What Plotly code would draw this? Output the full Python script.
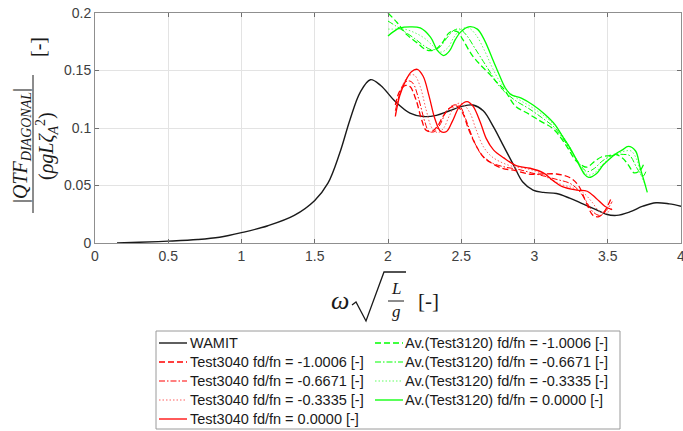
import plotly.graph_objects as go

# ---------------- data ----------------
omega_wamit = [0.15, 0.30, 0.50, 0.70, 0.85, 1.00, 1.18, 1.36, 1.50, 1.59, 1.67, 1.74, 1.81, 1.88,
               1.95, 2.05, 2.15, 2.24, 2.33, 2.42, 2.51, 2.58, 2.65, 2.72, 2.79, 2.86, 2.92, 2.99,
               3.06, 3.15, 3.24, 3.33, 3.42, 3.49, 3.56, 3.65, 3.74, 3.83, 3.92, 4.00]
qtf_wamit = [0.000, 0.0006, 0.0016, 0.0030, 0.0050, 0.009, 0.015, 0.024, 0.037, 0.052, 0.078, 0.107,
             0.131, 0.142, 0.137, 0.123, 0.113, 0.110, 0.111, 0.115, 0.119, 0.120, 0.115, 0.101,
             0.084, 0.067, 0.053, 0.046, 0.044, 0.043, 0.039, 0.034, 0.029, 0.025, 0.024, 0.027,
             0.032, 0.035, 0.034, 0.032]

# Test3040, fd/fn = -1.0006
omega_t3040_a = [2.05, 2.08, 2.12, 2.15, 2.19, 2.23, 2.26, 2.30, 2.34, 2.38, 2.43, 2.47, 2.51, 2.55,
                 2.60, 2.65, 2.70, 2.78, 2.87, 2.96, 3.05, 3.15, 3.24, 3.30, 3.35, 3.40, 3.44, 3.48, 3.52]
qtf_t3040_a = [0.120, 0.132, 0.137, 0.136, 0.125, 0.107, 0.098, 0.097, 0.102, 0.111, 0.118, 0.119,
               0.113, 0.099, 0.085, 0.075, 0.070, 0.065, 0.063, 0.060, 0.060, 0.060, 0.057, 0.050,
               0.036, 0.024, 0.023, 0.028, 0.038]
# Test3040, fd/fn = -0.6671
omega_t3040_b = [2.05, 2.08, 2.11, 2.14, 2.17, 2.21, 2.25, 2.28, 2.32, 2.36, 2.40, 2.45, 2.49, 2.53,
                 2.57, 2.62, 2.67, 2.72, 2.80, 2.89, 2.98, 3.07, 3.16, 3.24, 3.30, 3.35, 3.40, 3.45,
                 3.50, 3.53]
qtf_t3040_b = [0.115, 0.130, 0.139, 0.141, 0.139, 0.125, 0.106, 0.097, 0.097, 0.104, 0.115, 0.120,
               0.119, 0.108, 0.094, 0.080, 0.073, 0.069, 0.066, 0.064, 0.061, 0.058, 0.055, 0.052,
               0.046, 0.037, 0.027, 0.024, 0.030, 0.036]
# Test3040, fd/fn = -0.3335
omega_t3040_c = [2.05, 2.08, 2.11, 2.15, 2.18, 2.22, 2.26, 2.30, 2.34, 2.38, 2.42, 2.47, 2.51, 2.56,
                 2.60, 2.65, 2.70, 2.76, 2.84, 2.93, 3.02, 3.10, 3.18, 3.26, 3.33, 3.39, 3.44, 3.49, 3.53]
qtf_t3040_c = [0.112, 0.129, 0.140, 0.146, 0.146, 0.136, 0.116, 0.100, 0.096, 0.100, 0.111, 0.121,
               0.121, 0.113, 0.099, 0.084, 0.076, 0.071, 0.067, 0.065, 0.062, 0.056, 0.051, 0.048,
               0.044, 0.036, 0.028, 0.026, 0.031]
# Test3040, fd/fn = 0.0000
omega_t3040_d = [2.05, 2.08, 2.12, 2.16, 2.20, 2.24, 2.28, 2.32, 2.36, 2.40, 2.44, 2.49, 2.54, 2.58,
                 2.63, 2.67, 2.72, 2.79, 2.88, 2.97, 3.06, 3.13, 3.19, 3.29, 3.36, 3.42, 3.48, 3.53]
qtf_t3040_d = [0.110, 0.128, 0.141, 0.149, 0.151, 0.145, 0.128, 0.108, 0.097, 0.097, 0.106, 0.119,
               0.123, 0.119, 0.105, 0.091, 0.081, 0.074, 0.067, 0.065, 0.061, 0.054, 0.049, 0.046,
               0.045, 0.039, 0.032, 0.029]

# Av.(Test3120), fd/fn = -1.0006
omega_t3120_a = [2.00, 2.06, 2.13, 2.20, 2.26, 2.32, 2.37, 2.42, 2.47, 2.51, 2.57, 2.63, 2.70, 2.74,
                 2.79, 2.87, 2.95, 3.04, 3.13, 3.22, 3.28, 3.33, 3.36, 3.41, 3.46, 3.51, 3.55, 3.60,
                 3.64, 3.68, 3.72, 3.75]
qtf_t3120_a = [0.200, 0.192, 0.181, 0.174, 0.168, 0.168, 0.174, 0.183, 0.184, 0.177, 0.164, 0.155,
               0.146, 0.140, 0.134, 0.119, 0.113, 0.106, 0.099, 0.084, 0.072, 0.067, 0.066, 0.071,
               0.075, 0.076, 0.077, 0.074, 0.068, 0.061, 0.063, 0.070]
# Av.(Test3120), fd/fn = -0.6671
omega_t3120_b = [2.00, 2.05, 2.11, 2.18, 2.24, 2.30, 2.35, 2.40, 2.45, 2.49, 2.54, 2.59, 2.65, 2.70,
                 2.75, 2.80, 2.88, 2.96, 3.05, 3.14, 3.22, 3.28, 3.33, 3.36, 3.41, 3.46, 3.51, 3.56,
                 3.61, 3.65, 3.70, 3.74, 3.76]
qtf_t3120_b = [0.193, 0.189, 0.184, 0.178, 0.172, 0.168, 0.170, 0.178, 0.185, 0.186, 0.180, 0.170,
               0.158, 0.148, 0.138, 0.131, 0.123, 0.117, 0.109, 0.100, 0.086, 0.074, 0.065, 0.062,
               0.065, 0.071, 0.075, 0.077, 0.077, 0.076, 0.065, 0.058, 0.062]
# Av.(Test3120), fd/fn = -0.3335
omega_t3120_c = [2.00, 2.05, 2.11, 2.18, 2.25, 2.31, 2.36, 2.41, 2.45, 2.50, 2.55, 2.60, 2.66, 2.71,
                 2.76, 2.81, 2.89, 2.97, 3.06, 3.14, 3.22, 3.28, 3.33, 3.37, 3.42, 3.47, 3.52, 3.57,
                 3.62, 3.66, 3.70, 3.73, 3.76]
qtf_t3120_c = [0.186, 0.186, 0.186, 0.183, 0.178, 0.171, 0.166, 0.170, 0.179, 0.186, 0.187, 0.181,
               0.167, 0.153, 0.141, 0.133, 0.125, 0.119, 0.111, 0.102, 0.088, 0.074, 0.063, 0.059,
               0.062, 0.069, 0.074, 0.078, 0.080, 0.080, 0.072, 0.058, 0.050]
# Av.(Test3120), fd/fn = 0.0000
omega_t3120_d = [2.00, 2.04, 2.08, 2.15, 2.22, 2.29, 2.34, 2.38, 2.42, 2.46, 2.50, 2.55, 2.61, 2.66,
                 2.72, 2.76, 2.80, 2.84, 2.91, 2.99, 3.07, 3.14, 3.19, 3.25, 3.30, 3.34, 3.37, 3.42,
                 3.47, 3.52, 3.56, 3.60, 3.64, 3.69, 3.72, 3.75, 3.77]
qtf_t3120_d = [0.180, 0.184, 0.187, 0.188, 0.187, 0.179, 0.167, 0.163, 0.167, 0.177, 0.184, 0.188,
               0.186, 0.176, 0.158, 0.146, 0.135, 0.129, 0.126, 0.120, 0.112, 0.103, 0.093, 0.081,
               0.069, 0.060, 0.057, 0.060, 0.068, 0.074, 0.078, 0.081, 0.084, 0.080, 0.066, 0.053, 0.044]

series_names = ["WAMIT",
                "Test3040 fd/fn = -1.0006 [-]", "Test3040 fd/fn = -0.6671 [-]",
                "Test3040 fd/fn = -0.3335 [-]", "Test3040 fd/fn = 0.0000 [-]",
                "Av.(Test3120) fd/fn = -1.0006 [-]", "Av.(Test3120) fd/fn = -0.6671 [-]",
                "Av.(Test3120) fd/fn = -0.3335 [-]", "Av.(Test3120) fd/fn = 0.0000 [-]"]

x_ticks = [0, 0.5, 1, 1.5, 2, 2.5, 3, 3.5, 4]
x_tick_labels = ["0", "0.5", "1", "1.5", "2", "2.5", "3", "3.5", "4"]
y_ticks = [0, 0.05, 0.1, 0.15, 0.2]
y_tick_labels = ["0", "0.05", "0.1", "0.15", "0.2"]

# ---------------- styles ----------------
BLACK = "#1a1a1a"
RED = "#ff0000"
GREEN = "#00ff00"
DASH = "6px,3px"
DASHDOT = "6px,2px,1.5px,2px"
DOT = "1.5px,2px"

series = [
    (omega_wamit, qtf_wamit, BLACK, "solid", 1.4),
    (omega_t3040_a, qtf_t3040_a, RED, DASH, 1.3),
    (omega_t3040_b, qtf_t3040_b, RED, DASHDOT, 1.0),
    (omega_t3040_c, qtf_t3040_c, "#ff6060", DOT, 1.0),
    (omega_t3040_d, qtf_t3040_d, RED, "solid", 1.3),
    (omega_t3120_a, qtf_t3120_a, GREEN, DASH, 1.3),
    (omega_t3120_b, qtf_t3120_b, GREEN, DASHDOT, 1.0),
    (omega_t3120_c, qtf_t3120_c, "#60ff60", DOT, 1.0),
    (omega_t3120_d, qtf_t3120_d, GREEN, "solid", 1.3),
]

fig = go.Figure()
for (xs, ys, col, dash, w), name in zip(series, series_names):
    fig.add_trace(go.Scatter(x=xs, y=ys, mode="lines", name=name, showlegend=False,
                             line=dict(color=col, dash=dash, width=w, shape="spline", smoothing=1.0)))

W, H = 683, 431
ML, MR, MT, MB = 95, 2, 13, 188
PW, PH = W - ML - MR, H - MT - MB


def px(xp):
    return (xp - ML) / PW


def py(yp):
    return (H - MB - yp) / PH


shapes = []
annotations = []

# ---- manual legend (MATLAB style, two columns, column-major) ----
shapes.append(dict(type="rect", xref="paper", yref="paper", x0=px(156), x1=px(620),
                   y0=py(429), y1=py(331), line=dict(color="#9a9a9a", width=1),
                   fillcolor="white", layer="above"))
rows = [343, 362, 381, 400, 419]
col_pos = [(159, 187, 190)] * 5 + [(375, 403, 405)] * 4
row_pos = rows + rows[:4]
for i, ((xs, ys, col, dash, w), name) in enumerate(zip(series, series_names)):
    x0, x1, xt = col_pos[i]
    yr = row_pos[i]
    shapes.append(dict(type="line", xref="paper", yref="paper", x0=px(x0), x1=px(x1),
                       y0=py(yr), y1=py(yr), line=dict(color=col, dash=dash, width=max(w, 1.2)),
                       layer="above"))
    annotations.append(dict(xref="paper", yref="paper", x=px(xt), y=py(yr), text=name,
                            showarrow=False, xanchor="left", yanchor="middle",
                            borderpad=0, borderwidth=0,
                            font=dict(family="Liberation Sans, Arial", size=14.5, color="#1a1a1a")))

# ---- x-axis label: omega * sqrt(L/g) [-] ----
serif = "Liberation Serif, Times New Roman, serif"
annotations.append(dict(xref="paper", yref="paper", x=px(340), y=py(300), text="<i>ω</i>",
                        showarrow=False, xanchor="center", yanchor="middle",
                        font=dict(family=serif, size=26, color="#1a1a1a")))
shapes.append(dict(type="path", xref="paper", yref="paper",
                   path=f"M {px(352)},{py(305)} L {px(356)},{py(302)} L {px(366)},{py(321)} "
                        f"L {px(384)},{py(272)} L {px(406)},{py(272)}",
                   line=dict(color="#1a1a1a", width=1.3)))
annotations.append(dict(xref="paper", yref="paper", x=px(396), y=py(288), text="<i>L</i>",
                        showarrow=False, xanchor="center", yanchor="middle",
                        font=dict(family=serif, size=17, color="#1a1a1a")))
shapes.append(dict(type="line", xref="paper", yref="paper", x0=px(388), x1=px(404),
                   y0=py(301), y1=py(301), line=dict(color="#1a1a1a", width=1)))
annotations.append(dict(xref="paper", yref="paper", x=px(396), y=py(311), text="<i>g</i>",
                        showarrow=False, xanchor="center", yanchor="middle",
                        font=dict(family=serif, size=17, color="#1a1a1a")))
annotations.append(dict(xref="paper", yref="paper", x=px(428), y=py(301), text="[-]",
                        showarrow=False, xanchor="center", yanchor="middle",
                        font=dict(family=serif, size=21, color="#1a1a1a")))

# ---- y-axis label: |QTF_DIAGONAL| / (rho g L zeta_A^2) [-] ----
annotations.append(dict(xref="paper", yref="paper", x=px(21), y=py(146),
                        text="|<i>QTF</i><sub><i>DIAGONAL</i></sub>|",
                        showarrow=False, xanchor="center", yanchor="middle", textangle=-90,
                        font=dict(family=serif, size=20, color="#1a1a1a")))
shapes.append(dict(type="line", xref="paper", yref="paper", x0=px(33), x1=px(33),
                   y0=py(75), y1=py(213), line=dict(color="#1a1a1a", width=1)))
annotations.append(dict(xref="paper", yref="paper", x=px(47), y=py(146),
                        text="(<i>ρgLζ</i><sub><i>A</i></sub><sup>2</sup>)",
                        showarrow=False, xanchor="center", yanchor="middle", textangle=-90,
                        font=dict(family=serif, size=20, color="#1a1a1a")))
annotations.append(dict(xref="paper", yref="paper", x=px(38), y=py(47), text="[-]",
                        showarrow=False, xanchor="center", yanchor="middle", textangle=-90,
                        font=dict(family=serif, size=20, color="#1a1a1a")))

axis_common = dict(showgrid=True, gridcolor="#e3e3e3", gridwidth=1, zeroline=False,
                   showline=True, linecolor="#8f8f8f", linewidth=1, mirror="ticks",
                   ticks="inside", ticklen=4, tickcolor="#6f6f6f", ticklabeloverflow="allow",
                   tickfont=dict(family="Liberation Sans, Arial", size=14, color="#404040"))

fig.update_layout(
    width=W, height=H,
    margin=dict(l=ML, r=MR, t=MT, b=MB, autoexpand=False),
    paper_bgcolor="white", plot_bgcolor="white",
    showlegend=False,
    xaxis=dict(range=[0, 4], tickvals=x_ticks, ticktext=x_tick_labels, **axis_common),
    yaxis=dict(range=[0, 0.2], tickvals=y_ticks, ticktext=y_tick_labels, **axis_common),
    shapes=shapes,
    annotations=annotations,
)

fig.write_html("out.html")
